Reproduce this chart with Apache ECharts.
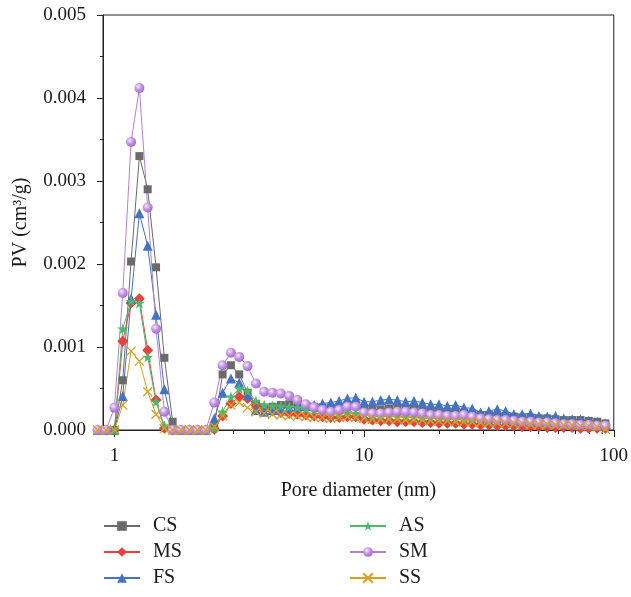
<!DOCTYPE html>
<html><head><meta charset="utf-8">
<script src="https://cdn.jsdelivr.net/npm/echarts@6/dist/echarts.min.js"></script>
<style>html,body{margin:0;padding:0;background:#fff}#c{width:631px;height:597px}</style>
</head><body><div id="c"></div>
<script>
// Pore diameter grid (nm)
const poreDiameter = [0.858,0.926,1.000,1.080,1.166,1.259,1.359,1.468,1.585,1.711,
  1.848,1.995,2.154,2.326,2.512,2.712,2.929,3.162,3.415,3.687,
  3.981,4.299,4.642,5.012,5.412,5.843,6.310,6.813,7.356,7.943,
  8.577,9.261,10.00,10.80,11.66,12.59,13.59,14.68,15.85,17.11,
  18.48,19.95,21.54,23.26,25.12,27.12,29.29,31.62,34.15,36.87,
  39.81,42.99,46.42,50.12,54.12,58.43,63.10,68.13,73.56,79.43,
  85.77,92.61];
const CS = [0,0,0,0.0006,0.00203,0.0033,0.0029,0.00196,0.00087,0.0001,
  0,0,0,0,0.00005,0.00067,0.00078,0.00067,0.00045,0.0003,
  0.00027,0.00028,0.0003,0.00031,0.0003,0.00029,0.00028,0.00027,0.00027,0.00028,
  0.0003,0.0003,0.00026,0.00025,0.00025,0.00026,0.00026,0.00025,0.00025,0.00024,
  0.00023,0.00023,0.00022,0.00022,0.00021,0.0002,0.00018,0.00018,0.00017,0.00017,
  0.00016,0.00015,0.00015,0.00014,0.00014,0.00013,0.00012,0.00012,0.00012,0.00011,
  0.0001,0.00008];
const MS = [0,0,0,0.00107,0.00153,0.00158,0.00096,0.00036,0.00002,0,
  0,0,0,0,0.00001,0.00017,0.00032,0.0004,0.00038,0.0003,
  0.00025,0.00023,0.00021,0.0002,0.00019,0.00018,0.00017,0.00016,0.00015,0.00015,
  0.00016,0.00016,0.00013,0.00012,0.00011,0.00011,0.0001,0.0001,0.0001,0.00009,
  0.00009,0.00008,0.00008,0.00008,0.00007,0.00007,0.00006,0.00006,0.00005,0.00005,
  0.00005,0.00004,0.00004,0.00004,0.00003,0.00003,0.00003,0.00003,0.00002,0.00002,
  0.00002,0.00002];
const FS = [0,0,0,0.00041,0.00158,0.00261,0.00222,0.00139,0.00049,0.00003,
  0,0,0,0,0.00014,0.00045,0.00062,0.00057,0.00042,0.00024,
  0.00022,0.00024,0.00026,0.00027,0.00028,0.00029,0.0003,0.00032,0.00033,0.00035,
  0.00038,0.00039,0.00034,0.00034,0.00036,0.00037,0.00036,0.00034,0.00035,0.00033,
  0.00031,0.00031,0.00029,0.0003,0.00027,0.00026,0.00021,0.00023,0.00025,0.00023,
  0.00019,0.00019,0.0002,0.00017,0.00016,0.00017,0.00014,0.00013,0.00013,0.00011,
  0.0001,0.00008];
const AS = [0,0,0,0.00122,0.00155,0.00153,0.00088,0.00034,0.00005,0,
  0,0,0,0,0.00002,0.00022,0.0004,0.0005,0.00047,0.00035,
  0.0003,0.00029,0.00029,0.00028,0.00027,0.00025,0.00023,0.00022,0.0002,0.0002,
  0.00021,0.0002,0.00018,0.00017,0.00016,0.00016,0.00016,0.00015,0.00015,0.00014,
  0.00014,0.00013,0.00013,0.00013,0.00012,0.00012,0.00011,0.0001,0.0001,0.0001,
  0.00009,0.00009,0.00008,0.00008,0.00007,0.00007,0.00007,0.00006,0.00006,0.00006,
  0.00005,0.00005];
const SM = [0,0,0.00027,0.00165,0.00347,0.00412,0.00268,0.00122,0.00022,0,
  0,0,0,0,0.00033,0.00078,0.00093,0.00088,0.00077,0.00056,
  0.00046,0.00045,0.00044,0.00041,0.00036,0.00031,0.00027,0.00024,0.00022,0.00024,
  0.00028,0.00028,0.00021,0.0002,0.0002,0.00021,0.00022,0.00022,0.00021,0.0002,
  0.00018,0.00018,0.00017,0.00017,0.00018,0.00016,0.00014,0.00013,0.00012,0.00012,
  0.00011,0.0001,0.0001,0.00009,0.00009,0.00008,0.00007,0.00007,0.00006,0.00006,
  0.00005,0.00005];
const SS = [0,0,0,0.0003,0.00095,0.00083,0.00046,0.00019,0.00002,0,
  0,0,0,0,0.00004,0.00017,0.0003,0.00033,0.00027,0.00022,
  0.0002,0.00019,0.00018,0.00017,0.00017,0.00016,0.00015,0.00015,0.00014,0.00015,
  0.00016,0.00015,0.00014,0.00013,0.00013,0.00013,0.00013,0.00012,0.00012,0.00012,
  0.00011,0.00011,0.00011,0.0001,0.0001,0.0001,0.00009,0.00009,0.00009,0.00008,
  0.00008,0.00008,0.00007,0.00007,0.00007,0.00006,0.00006,0.00006,0.00005,0.00005,
  0.00004,0.00001];
const xMajorTicks = [1, 10, 100];
const xMinorTicks = [2,3,4,5,6,7,8,9,20,30,40,50,60,70,80,90];

const FONT = '"Liberation Serif", "DejaVu Serif", serif';
const AX = '#222';
function pairs(v) { return poreDiameter.map((d, i) => [d, v[i]]); }

const STAR = 'path://M50,0 L61.8,35.1 L98.5,35.1 L68.8,56.9 L80.2,92 L50,70.3 L19.8,92 L31.2,56.9 L1.5,35.1 L38.2,35.1 Z';
const CROSS = 'path://M0,0 L10,10 M10,0 L0,10';

function mk(name, data, color, symbol, size, extraItem) {
  return {
    name, type: 'line', data: pairs(data), symbol, symbolSize: size,
    showAllSymbol: true, clip: false, smooth: false,
    lineStyle: { color, width: 1 },
    itemStyle: Object.assign({ color }, extraItem || {}),
    emphasis: { disabled: true }
  };
}

const legendBase = { orient: 'vertical', top: 516, height: 90, padding: 0, itemWidth: 36, itemHeight: 12, itemGap: 6,
  textStyle: { fontFamily: FONT, fontSize: 20, color: '#1a1a1a', padding: [0, 0, 0, 8] } };

const chart = echarts.init(document.getElementById('c'), null, { renderer: 'canvas' });
chart.setOption({
  animation: false,
  backgroundColor: '#fff',
  grid: { left: 103, right: 14, top: 15, bottom: 167, show: true, borderColor: AX, borderWidth: 1, backgroundColor: 'transparent' },
  legend: [
    Object.assign({ data: ['CS', 'MS', 'FS'], left: 103 }, legendBase),
    Object.assign({ data: ['AS', 'SM', 'SS'], left: 349 }, legendBase)
  ],
  xAxis: [
    { type: 'log', logBase: 10, min: 0.9, max: 100,
      name: 'Pore diameter (nm)', nameLocation: 'middle', nameGap: 51,
      nameTextStyle: { fontFamily: FONT, fontSize: 20, color: '#1a1a1a' },
      axisLine: { show: true, onZero: false, lineStyle: { color: AX, width: 1 } },
      axisTick: { show: true, customValues: xMajorTicks, length: 7, lineStyle: { color: AX } },
      axisLabel: { customValues: xMajorTicks, fontFamily: FONT, fontSize: 19, color: '#1a1a1a', margin: 17 },
      splitLine: { show: false }, minorTick: { show: false } },
    { type: 'log', logBase: 10, min: 0.9, max: 100, position: 'bottom',
      axisLine: { show: true, onZero: false, lineStyle: { color: AX, width: 1 } },
      axisTick: { show: true, customValues: xMinorTicks, length: 4, lineStyle: { color: AX } },
      axisLabel: { show: false }, splitLine: { show: false } }
  ],
  yAxis: {
    type: 'value', min: 0, max: 0.005, interval: 0.001,
    name: 'PV (cm³/g)', nameLocation: 'middle', nameGap: 72,
    nameTextStyle: { fontFamily: FONT, fontSize: 20, color: '#1a1a1a' },
    axisLine: { show: true, lineStyle: { color: AX, width: 1 } },
    axisTick: { show: true, length: 6, lineStyle: { color: AX } },
    minorTick: { show: true, splitNumber: 2, length: 3, lineStyle: { color: AX } },
    axisLabel: { fontFamily: FONT, fontSize: 19, color: '#1a1a1a', margin: 17, formatter: v => v.toFixed(3) },
    splitLine: { show: false }
  },
  series: [
    // invisible carrier so the minor-tick axis gets an extent from the data
    { name: '_minor', type: 'line', xAxisIndex: 1, data: pairs(SS), symbol: 'none',
      lineStyle: { opacity: 0 }, silent: true, tooltip: { show: false } },
    mk('CS', CS, '#6b6b6b', 'rect', 8),
    mk('MS', MS, '#e8413c', 'diamond', 11),
    mk('FS', FS, '#4472c4', 'triangle', 10),
    mk('AS', AS, '#4cb86b', STAR, 11),
    Object.assign(mk('SM', SM, '#b57fd8', 'circle', 10), {
      itemStyle: { color: { type: 'radial', x: 0.38, y: 0.35, r: 0.65,
        colorStops: [{ offset: 0, color: '#f6ecfc' }, { offset: 0.5, color: '#c596e3' }, { offset: 1, color: '#a868d2' }] } }
    }),
    mk('SS', SS, '#d9a020', CROSS, 9, { borderColor: '#d9a020', borderWidth: 1.3 })
  ]
});
</script></body></html>
